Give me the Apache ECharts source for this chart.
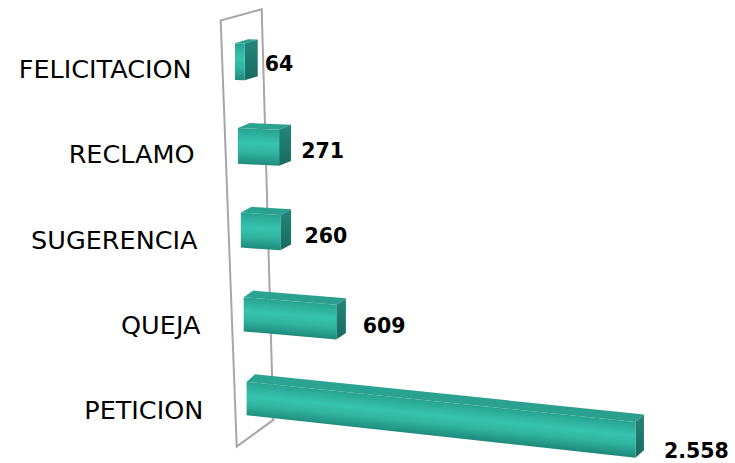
<!DOCTYPE html>
<html><head><meta charset="utf-8">
<script src="https://cdn.jsdelivr.net/npm/echarts@6/dist/echarts.min.js"></script>
<style>html,body{margin:0;padding:0;background:#fff}#c{width:735px;height:463px}</style>
</head><body><div id="c"></div>
<script>
// ---- data ----
const categories = ['FELICITACION', 'RECLAMO', 'SUGERENCIA', 'QUEJA', 'PETICION'];
const values = [64, 271, 260, 609, 2558];
const valueAxisRange = [0, 3000];

// ---- layout / style constants ----
const GRID = { left: 235, top: 19.6, width: 456, height: 421 };
const SLANT = 0.0345;           // perspective lean of the category wall
const H = [36.7, 33.3];         // front face height top -> bottom row
const SLOPE = [0.02, 0.103];    // perspective slope of bar length top -> bottom
const GROW = 0.0002;            // height growth along the bar
const DX = [13, 8.5], DY = [-4, -7.5]; // depth vector top -> bottom
const lerp = (a, b, t) => a + (b - a) * t;
const fmt = v => String(v).replace(/\B(?=(\d{3})+(?!\d))/g, '.');

const FRONT_STOPS = [
  { offset: 0, color: '#27a291' }, { offset: 0.4, color: '#36c4ae' },
  { offset: 0.65, color: '#30b5a1' }, { offset: 1, color: '#1f8b7c' }];
const topGrad = () => new echarts.graphic.LinearGradient(0, 0, 1, 0, [
  { offset: 0, color: '#2aa493' }, { offset: 1, color: '#2b9f8e' }]);
const capGrad = () => new echarts.graphic.LinearGradient(0, 0, 0, 1, [
  { offset: 0, color: '#23877b' }, { offset: 1, color: '#186b61' }]);

function renderItem(params, api) {
  const v = api.value(0), ci = api.value(1);
  const topC = api.coord([0, 0])[1];
  const botC = api.coord([0, categories.length - 1])[1];
  const p0 = api.coord([0, ci]), p1 = api.coord([v, ci]);
  const cy = p0[1];
  const t = (cy - topC) / (botC - topC);
  const x0 = p0[0] + (cy - topC) * SLANT;
  const L = p1[0] - p0[0];
  const h = lerp(H[0], H[1], t);
  const s = lerp(SLOPE[0], SLOPE[1], t);
  const hR = h * (1 + GROW * L);
  const dx = lerp(DX[0], DX[1], t), dy = lerp(DY[0], DY[1], t);
  const ytl = cy - h / 2;
  const topY = x => ytl + s * (x - x0);
  const botY = x => ytl + s * (x - x0) + h + (L > 0 ? (hR - h) * (x - x0) / L : 0);
  const FTL = [x0, topY(x0)], FBL = [x0, botY(x0)];
  const FTR = [x0 + L, topY(x0 + L)], FBR = [x0 + L, botY(x0 + L)];
  const add = p => [p[0] + dx, p[1] + dy];
  const BTL = add(FTL), BTR = add(FTR), BBR = add(FBR);
  // gradient across the slanted front face (perpendicular to its top edge)
  const xm = x0 + L / 2, ym = topY(xm), hm = (h + hR) / 2;
  const nrm = Math.sqrt(1 + s * s);
  const gx = -s / nrm * hm / nrm, gy = 1 / nrm * hm / nrm;
  const frontGrad = new echarts.graphic.LinearGradient(xm, ym, xm + gx, ym + gy, FRONT_STOPS, true);
  const children = [];
  children.push({ type: 'polygon', shape: { points: [FTL, FTR, BTR, BTL] }, style: { fill: topGrad() } });
  children.push({ type: 'polygon', shape: { points: [FTR, BTR, BBR, FBR] }, style: { fill: capGrad() } });
  children.push({ type: 'polygon', shape: { points: [FTL, FTR, FBR, FBL] }, style: { fill: frontGrad } });
  // category label
  children.push({ type: 'text', style: {
    text: categories[ci], x: x0 - 43.3, y: cy + lerp(7.3, 11.6, t),
    align: 'right', verticalAlign: 'middle',
    font: '25.5px "DejaVu Sans"', fill: '#000' } });
  // value label
  children.push({ type: 'text', style: {
    text: fmt(v), x: FTR[0] + lerp(20, 28.5, t), y: (FTR[1] + FBR[1]) / 2 + 2 + 0.024 * L,
    align: 'left', verticalAlign: 'middle',
    font: 'bold 20.5px "DejaVu Sans"', fill: '#000' } });
  return { type: 'group', children };
}

// wall outline, derived from the grid frame
const wTop = GRID.top + 1, wBot = GRID.top + GRID.height + 6;
const wFT = [GRID.left - 14.3, wTop], wFB = [GRID.left + 1.7, wBot];
const wBT = [wFT[0] + 41, wFT[1] - 11.4], wBB = [wFB[0] + 36.6, wFB[1] - 26.7];

const chart = echarts.init(document.getElementById('c'), null, { renderer: 'svg' });
chart.setOption({
  animation: false,
  backgroundColor: '#fff',
  grid: GRID,
  xAxis: { type: 'value', min: valueAxisRange[0], max: valueAxisRange[1], show: false },
  yAxis: { type: 'category', data: categories, inverse: true, show: false },
  graphic: { elements: [{ type: 'polygon', z: 0, silent: true,
    shape: { points: [wFT, wFB, wBB, wBT] },
    style: { fill: 'none', stroke: '#a6a6a6', lineWidth: 2 } }] },
  series: [{ type: 'custom', z: 5, renderItem,
    encode: { x: 0, y: 1 },
    data: values.map((v, i) => [v, i]) }]
});
</script></body></html>
